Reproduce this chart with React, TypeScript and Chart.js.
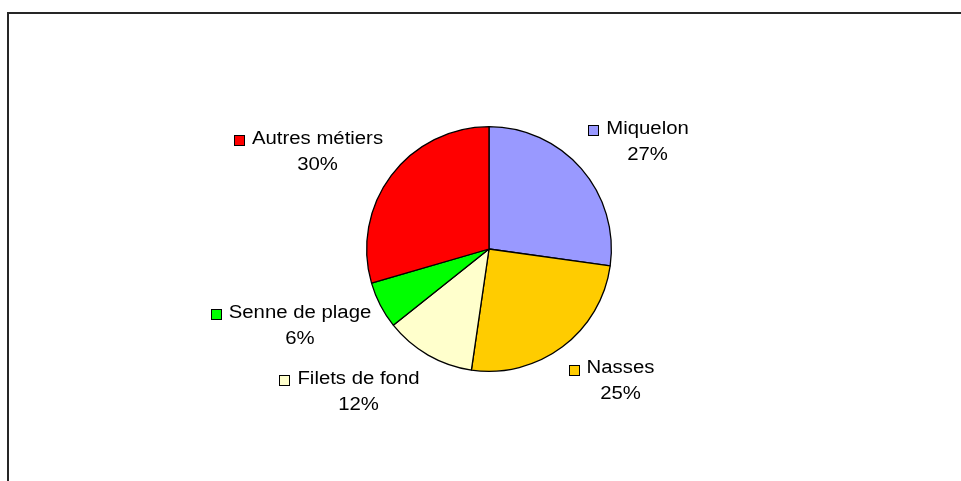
import React, { useEffect, useRef } from "react";
import { Chart, registerables } from "chart.js";

Chart.register(...registerables);

const categories = ["Miquelon", "Nasses", "Filets de fond", "Senne de plage", "Autres métiers"];
const shares = [27.2, 25.1, 12.0, 6.2, 29.5];
const sliceColors = ["#9999FF", "#FFCC00", "#FFFFCC", "#00FF00", "#FF0000"];

// label block centre offsets relative to the pie centre (layout only)
const labelOffsets: [number, number][] = [
  [158.5, -107],
  [131.5, 132.5],
  [-130.5, 143],
  [-189, 77],
  [-171.5, -97],
];

const FONT = '18px "Liberation Sans", Arial, sans-serif';
const STRETCH = 1.13;

const labelPlugin = {
  id: "excelLabels",
  afterDraw(chart: any) {
    const ctx = chart.ctx;
    ctx.save();
    // frame
    ctx.strokeStyle = "#262626";
    ctx.lineWidth = 2;
    ctx.beginPath();
    ctx.moveTo(8, 490);
    ctx.lineTo(8, 13);
    ctx.lineTo(970, 13);
    ctx.stroke();

    const meta = chart.getDatasetMeta(0);
    const total = shares.reduce((a, b) => a + b, 0);
    ctx.font = FONT;
    ctx.textBaseline = "middle";
    ctx.textAlign = "center";
    const drawText = (t: string, x: number, y: number) => {
      ctx.save();
      ctx.translate(x, y);
      ctx.scale(STRETCH, 1);
      ctx.fillStyle = "#000";
      ctx.fillText(t, 0, 0);
      ctx.restore();
    };
    meta.data.forEach((arc: any, i: number) => {
      const cx = arc.x + labelOffsets[i][0];
      const cy = arc.y + labelOffsets[i][1];
      const name = categories[i];
      const pct = Math.round((shares[i] / total) * 100) + "%";
      const y1 = cy - 13;
      const y2 = cy + 13;
      drawText(name, cx, y1);
      drawText(pct, cx, y2);
      const w = ctx.measureText(name).width * STRETCH;
      const sx = Math.round(cx - w / 2 - 18) + 0.5;
      const sy = Math.round(y1 - 4) + 0.5;
      ctx.fillStyle = sliceColors[i];
      ctx.fillRect(sx, sy, 10, 10);
      ctx.strokeStyle = "#000";
      ctx.lineWidth = 1;
      ctx.strokeRect(sx, sy, 10, 10);
    });
    ctx.restore();
  },
};

export default function App() {
  const ref = useRef<HTMLCanvasElement>(null);
  useEffect(() => {
    document.body.style.margin = "0";
    const chart = new Chart(ref.current!, {
      type: "pie",
      data: {
        labels: categories,
        datasets: [
          {
            data: shares,
            backgroundColor: sliceColors,
            borderColor: "#000",
            borderWidth: 1.3,
          },
        ],
      },
      options: {
        animation: false,
        responsive: false,
        maintainAspectRatio: false,
        layout: { padding: { left: 366, right: 349, top: 126, bottom: 109 } },
        plugins: { legend: { display: false }, tooltip: { enabled: false } },
      },
      plugins: [labelPlugin],
    });
    return () => chart.destroy();
  }, []);
  return (
    <div style={{ position: "fixed", left: 0, top: 0, width: 961, height: 481, background: "#fff" }}>
      <canvas ref={ref} width={961} height={481} />
    </div>
  );
}
